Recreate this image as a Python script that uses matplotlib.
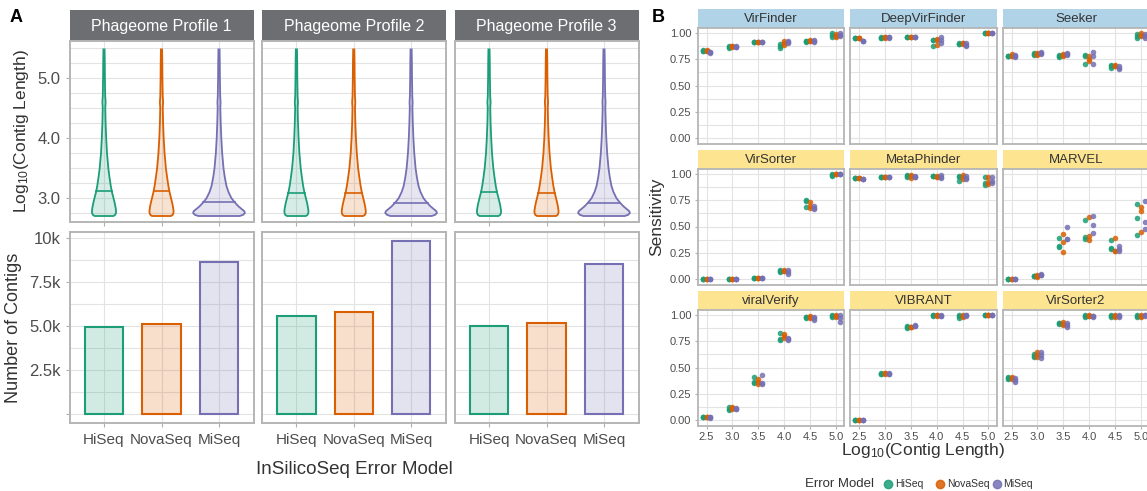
import numpy as np
import matplotlib
matplotlib.use("Agg")
import matplotlib.pyplot as plt
from matplotlib.lines import Line2D

plt.rcParams['font.family'] = ['Liberation Sans', 'DejaVu Sans']
plt.rcParams['mathtext.fontset'] = 'custom'
plt.rcParams['mathtext.rm'] = 'Liberation Sans'
plt.rcParams['mathtext.default'] = 'regular'

# ---------------------------------------------------------------- data
models = ["HiSeq", "NovaSeq", "MiSeq"]
model_colors = ["#1B9E77", "#D95F02", "#7570B3"]
profiles = ["Phageome Profile 1", "Phageome Profile 2", "Phageome Profile 3"]

# number of assembled contigs per profile (HiSeq, NovaSeq, MiSeq)
contigs_profile1 = [4930, 5110, 8680]
contigs_profile2 = [5570, 5800, 9850]
contigs_profile3 = [5000, 5170, 8520]

# median log10 contig length per profile (HiSeq, NovaSeq, MiSeq)
median_profile1 = [3.12, 3.12, 2.93]
median_profile2 = [3.08, 3.08, 2.91]
median_profile3 = [3.10, 3.09, 2.92]

# violin outlines: log10 length levels and half-widths (category units)
violin_levels = [2.70, 2.72, 2.75, 2.78, 2.82, 2.86, 2.90, 2.95, 3.00, 3.10,
                 3.20, 3.35, 3.50, 3.75, 4.00, 4.25, 4.50, 4.60, 4.70, 5.00,
                 5.25, 5.48]
hiseq_halfwidth = [0.165, 0.195, 0.208, 0.21, 0.205, 0.198, 0.19, 0.178, 0.165,
                   0.138, 0.118, 0.095, 0.075, 0.052, 0.038, 0.028, 0.022,
                   0.028, 0.021, 0.016, 0.014, 0.010]
novaseq_halfwidth = [0.165, 0.195, 0.208, 0.21, 0.205, 0.198, 0.19, 0.178, 0.165,
                     0.140, 0.120, 0.097, 0.076, 0.053, 0.038, 0.028, 0.022,
                     0.028, 0.021, 0.016, 0.014, 0.010]
miseq_halfwidth = [0.36, 0.42, 0.45, 0.44, 0.39, 0.34, 0.30, 0.255, 0.215, 0.165,
                   0.13, 0.10, 0.078, 0.055, 0.040, 0.030, 0.023, 0.027,
                   0.021, 0.016, 0.014, 0.010]

# sensitivity per tool: [model][length bin][profile]
length_bins = [2.5, 3.0, 3.5, 4.0, 4.5, 5.0]
sens_virfinder = [
    [[0.83, 0.83, 0.84], [0.86, 0.87, 0.88], [0.92, 0.92, 0.92], [0.90, 0.88, 0.86], [0.93, 0.93, 0.92], [1.00, 0.98, 0.96]],
    [[0.83, 0.83, 0.84], [0.88, 0.88, 0.87], [0.92, 0.92, 0.92], [0.925, 0.89, 0.91], [0.94, 0.93, 0.93], [0.99, 0.97, 0.96]],
    [[0.815, 0.82, 0.82], [0.87, 0.87, 0.88], [0.92, 0.92, 0.92], [0.93, 0.91, 0.92], [0.94, 0.93, 0.92], [1.00, 0.98, 0.97]],
]
sens_deepvirfinder = [
    [[0.95, 0.95, 0.95], [0.95, 0.96, 0.95], [0.96, 0.96, 0.96], [0.935, 0.94, 0.88], [0.91, 0.90, 0.90], [1.00, 1.00, 1.00]],
    [[0.95, 0.95, 0.95], [0.96, 0.95, 0.96], [0.96, 0.96, 0.96], [0.945, 0.885, 0.94], [0.91, 0.91, 0.90], [1.00, 1.00, 1.00]],
    [[0.93, 0.93, 0.93], [0.96, 0.95, 0.96], [0.96, 0.96, 0.96], [0.968, 0.936, 0.904], [0.91, 0.89, 0.88], [1.00, 1.00, 1.00]],
]
sens_seeker = [
    [[0.78, 0.78, 0.78], [0.81, 0.80, 0.79], [0.79, 0.78, 0.77], [0.79, 0.78, 0.71], [0.70, 0.69, 0.67], [0.99, 0.97, 0.95]],
    [[0.80, 0.78, 0.78], [0.81, 0.80, 0.79], [0.80, 0.78, 0.79], [0.78, 0.75, 0.73], [0.70, 0.69, 0.69], [1.00, 0.98, 0.97]],
    [[0.79, 0.77, 0.78], [0.82, 0.80, 0.81], [0.80, 0.81, 0.79], [0.82, 0.78, 0.71], [0.69, 0.67, 0.66], [0.99, 0.97, 0.95]],
]
sens_virsorter = [
    [[0.00, 0.00, 0.00], [0.00, 0.00, 0.00], [0.01, 0.01, 0.01], [0.08, 0.07, 0.06], [0.755, 0.74, 0.69], [1.00, 0.99, 0.98]],
    [[0.00, 0.00, 0.00], [0.00, 0.00, 0.00], [0.01, 0.01, 0.01], [0.08, 0.07, 0.07], [0.73, 0.70, 0.68], [1.00, 1.00, 1.00]],
    [[0.00, 0.00, 0.00], [0.00, 0.00, 0.00], [0.01, 0.01, 0.01], [0.08, 0.06, 0.05], [0.70, 0.68, 0.67], [1.00, 1.00, 1.00]],
]
sens_metaphinder = [
    [[0.96, 0.96, 0.96], [0.97, 0.97, 0.97], [0.99, 0.98, 0.97], [0.98, 0.98, 0.98], [0.98, 0.97, 0.94], [0.97, 0.92, 0.90]],
    [[0.96, 0.96, 0.96], [0.97, 0.97, 0.97], [0.99, 0.98, 0.96], [0.98, 0.97, 0.97], [0.99, 0.97, 0.95], [0.97, 0.93, 0.91]],
    [[0.95, 0.95, 0.95], [0.97, 0.97, 0.97], [0.98, 0.97, 0.97], [0.99, 0.97, 0.96], [0.98, 0.96, 0.95], [0.97, 0.94, 0.92]],
]
sens_marvel = [
    [[0.00, 0.00, 0.00], [0.03, 0.03, 0.03], [0.39, 0.31, 0.30], [0.56, 0.40, 0.38], [0.37, 0.29, 0.28], [0.72, 0.58, 0.42]],
    [[0.00, 0.00, 0.00], [0.03, 0.02, 0.04], [0.43, 0.35, 0.26], [0.59, 0.41, 0.37], [0.39, 0.27, 0.27], [0.69, 0.65, 0.45]],
    [[0.00, 0.00, 0.00], [0.05, 0.04, 0.04], [0.50, 0.38, 0.38], [0.60, 0.51, 0.44], [0.31, 0.28, 0.27], [0.74, 0.54, 0.48]],
]
sens_viralverify = [
    [[0.03, 0.03, 0.03], [0.12, 0.10, 0.09], [0.41, 0.36, 0.35], [0.83, 0.77, 0.76], [0.98, 0.98, 0.97], [1.00, 0.99, 0.98]],
    [[0.03, 0.03, 0.03], [0.12, 0.11, 0.10], [0.39, 0.36, 0.34], [0.82, 0.80, 0.78], [0.99, 0.98, 0.97], [1.00, 0.99, 0.98]],
    [[0.03, 0.03, 0.02], [0.11, 0.10, 0.10], [0.43, 0.35, 0.34], [0.78, 0.77, 0.76], [0.98, 0.97, 0.95], [1.00, 0.97, 0.94]],
]
sens_vibrant = [
    [[0.00, 0.00, 0.00], [0.45, 0.44, 0.44], [0.90, 0.89, 0.88], [1.00, 1.00, 0.99], [1.00, 0.99, 0.97], [1.00, 1.00, 1.00]],
    [[0.00, 0.00, 0.00], [0.45, 0.45, 0.44], [0.89, 0.89, 0.89], [1.00, 1.00, 0.99], [1.00, 0.99, 0.98], [1.00, 1.00, 1.00]],
    [[0.00, 0.00, 0.00], [0.45, 0.44, 0.44], [0.91, 0.90, 0.90], [1.00, 0.99, 0.99], [1.00, 1.00, 0.99], [1.00, 1.00, 1.00]],
]
sens_virsorter2 = [
    [[0.41, 0.40, 0.39], [0.63, 0.61, 0.60], [0.93, 0.93, 0.92], [1.00, 0.99, 0.98], [1.00, 0.99, 0.98], [1.00, 0.99, 0.98]],
    [[0.41, 0.40, 0.39], [0.65, 0.62, 0.60], [0.94, 0.92, 0.91], [1.00, 0.99, 0.99], [1.00, 0.99, 0.98], [1.00, 0.99, 0.98]],
    [[0.40, 0.38, 0.36], [0.65, 0.62, 0.59], [0.93, 0.91, 0.89], [0.99, 0.99, 0.98], [1.00, 0.99, 0.98], [1.00, 1.00, 0.99]],
]
tool_names = ["VirFinder", "DeepVirFinder", "Seeker",
              "VirSorter", "MetaPhinder", "MARVEL",
              "viralVerify", "VIBRANT", "VirSorter2"]
tool_sensitivity = [sens_virfinder, sens_deepvirfinder, sens_seeker,
                    sens_virsorter, sens_metaphinder, sens_marvel,
                    sens_viralverify, sens_vibrant, sens_virsorter2]
tool_strip_colors = ["#B0D3E8"] * 3 + ["#FDE491"] * 6

# ---------------------------------------------------------------- style
W, H = 1147, 491
fig = plt.figure(figsize=(W / 100, H / 100), dpi=100)

GRID = "#e3e3e3"
BORDER = "#b5b5b5"
TICKTXT = "#4d4d4d"
TITLE = "#333333"


def px_axes(x0, y0, x1, y1):
    return fig.add_axes([x0 / W, 1 - y1 / H, (x1 - x0) / W, (y1 - y0) / H])


def style_panel(ax, lw=1.4):
    for s in ax.spines.values():
        s.set_color(BORDER)
        s.set_linewidth(lw)
    ax.set_axisbelow(True)
    ax.tick_params(which="both", color="#b0b0b0", length=3, width=0.8,
                   labelcolor=TICKTXT)
    ax.tick_params(which="minor", length=0)


def strip(x0, y0, x1, y1, text, face, tcolor, size):
    sa = px_axes(x0, y0, x1, y1)
    sa.set_facecolor(face)
    sa.set_xticks([])
    sa.set_yticks([])
    for s in sa.spines.values():
        s.set_visible(False)
    sa.text(0.5, 0.47, text, ha="center", va="center", color=tcolor,
            fontsize=size, transform=sa.transAxes)


# ---------------------------------------------------------------- panel A
a_cols = [(69.5, 253.5), (262, 445.5), (454.5, 638.5)]
contigs = [contigs_profile1, contigs_profile2, contigs_profile3]
medians = [median_profile1, median_profile2, median_profile3]
halfwidths = [hiseq_halfwidth, novaseq_halfwidth, miseq_halfwidth]
cat_x = np.arange(1, 4)

for p, (x0, x1) in enumerate(a_cols):
    strip(x0, 10, x1, 41, profiles[p], "#6D6E71", "white", 11.5)

    # violins of contig length
    av = px_axes(x0, 41, x1, 222)
    style_panel(av)
    for m in range(3):
        lev = np.array(violin_levels)
        hw = np.array(halfwidths[m])
        xs = np.concatenate([cat_x[m] - hw, (cat_x[m] + hw)[::-1]])
        ys = np.concatenate([lev, lev[::-1]])
        av.fill(xs, ys, facecolor=model_colors[m], alpha=0.18, lw=0)
        av.fill(xs, ys, facecolor="none", edgecolor=model_colors[m], lw=1.3)
        med = medians[p][m]
        w = np.interp(med, lev, hw)
        av.plot([cat_x[m] - w, cat_x[m] + w], [med, med],
                color=model_colors[m], lw=1.2)
    av.set_xlim(0.4, 3.6)
    av.set_ylim(2.6, 5.62)
    av.set_xticks(cat_x)
    av.set_xticklabels([])
    av.set_yticks([3, 4, 5])
    av.set_yticks([2.75, 3.25, 3.5, 3.75, 4.25, 4.5, 4.75, 5.25, 5.5], minor=True)
    av.grid(True, which="both", color=GRID, lw=0.8)
    if p == 0:
        av.set_yticklabels(["3.0", "4.0", "5.0"], fontsize=12)
        av.set_ylabel("Log$_{10}$(Contig Length)", fontsize=12.5, color=TITLE,
                      labelpad=5)
    else:
        av.set_yticklabels([])
        av.tick_params(axis="y", length=0)

    # bars of contig counts
    ab = px_axes(x0, 232, x1, 423)
    style_panel(ab)
    for m in range(3):
        ab.bar(cat_x[m], contigs[p][m], width=0.67, color=model_colors[m],
               alpha=0.2, lw=0)
        ab.bar(cat_x[m], contigs[p][m], width=0.67, facecolor="none",
               edgecolor=model_colors[m], lw=1.5)
    ab.set_xlim(0.4, 3.6)
    ab.set_ylim(-510, 10360)
    ab.set_xticks(cat_x)
    ab.set_xticklabels(models, fontsize=11)
    ab.set_yticks([0, 2500, 5000, 7500, 10000])
    ab.set_yticks([1250, 3750, 6250, 8750], minor=True)
    ab.grid(True, which="both", color=GRID, lw=0.8)
    ab.tick_params(axis="x", pad=4)
    if p == 0:
        ab.set_yticklabels(["", "2.5k", "5.0k", "7.5k", "10k"], fontsize=12)
        ab.set_ylabel("Number of Contigs", fontsize=13, color=TITLE, labelpad=5)
    else:
        ab.set_yticklabels([])
        ab.tick_params(axis="y", length=0)

fig.text(354 / W, 1 - 470 / H, "InSilicoSeq Error Model", ha="center",
         va="center", fontsize=13.5, color=TITLE)
fig.text(10 / W, 1 - 18 / H, "A", fontsize=13, fontweight="bold",
         ha="left", va="center")

# ---------------------------------------------------------------- panel B
b_cols = [(697.7, 844.3), (850.3, 996.7), (1002.7, 1149.3)]
row_top = [8.5, 149.5, 290.5]
strip_h, panel_h = 19, 116
dodge = [-0.075, 0.0, 0.075]

for r in range(3):
    for c in range(3):
        k = r * 3 + c
        x0, x1 = b_cols[c]
        top = row_top[r]
        strip(x0, top, x1, top + strip_h, tool_names[k], tool_strip_colors[k],
              "#333333", 9.5)
        ax = px_axes(x0, top + strip_h, x1, top + strip_h + panel_h)
        style_panel(ax, lw=1.3)
        vals = tool_sensitivity[k]
        for m in range(3):
            for b, xb in enumerate(length_bins):
                ys = vals[m][b]
                ax.scatter([xb + dodge[m]] * len(ys), ys, s=16,
                           color=model_colors[m], alpha=0.85, lw=0, zorder=3)
        ax.set_xlim(2.33, 5.16)
        ax.set_ylim(-0.055, 1.055)
        ax.set_xticks(length_bins)
        ax.set_yticks([0, 0.25, 0.5, 0.75, 1.0])
        ax.set_yticks([0.125, 0.375, 0.625, 0.875], minor=True)
        ax.grid(True, which="major", color=GRID, lw=0.8)
        ax.grid(True, which="minor", axis="y", color=GRID, lw=0.8)
        ax.tick_params(which="major", length=2.5, labelsize=8, pad=2)
        if c == 0:
            ax.set_yticklabels(["0.00", "0.25", "0.50", "0.75", "1.00"])
        else:
            ax.set_yticklabels([])
            ax.tick_params(axis="y", length=0)
        if r == 2:
            ax.set_xticklabels(["2.5", "3.0", "3.5", "4.0", "4.5", "5.0"])
        else:
            ax.set_xticklabels([])
            ax.tick_params(axis="x", length=0)

fig.text(923 / W, 1 - 451 / H, "Log$_{10}$(Contig Length)", ha="center",
         va="center", fontsize=12.5, color=TITLE)
fig.text(657 / W, 1 - 217 / H, "Sensitivity", ha="center", va="center",
         rotation=90, fontsize=12.5, color=TITLE)
fig.text(652 / W, 1 - 18 / H, "B", fontsize=13, fontweight="bold",
         ha="left", va="center")

# legend
fig.text(805 / W, 1 - 484 / H, "Error Model", ha="left", va="center",
         fontsize=9.5, color=TITLE)
leg_x = [888, 940, 996.5]
for m in range(3):
    fig.add_artist(Line2D([leg_x[m] / W], [1 - 484 / H], marker="o", ms=6,
                          color=model_colors[m], alpha=0.85, lw=0,
                          transform=fig.transFigure))
    fig.text((leg_x[m] + 7) / W, 1 - 484 / H, models[m], ha="left",
             va="center", fontsize=7.5, color=TITLE)

fig.savefig("out.png", dpi=100, facecolor="white")
